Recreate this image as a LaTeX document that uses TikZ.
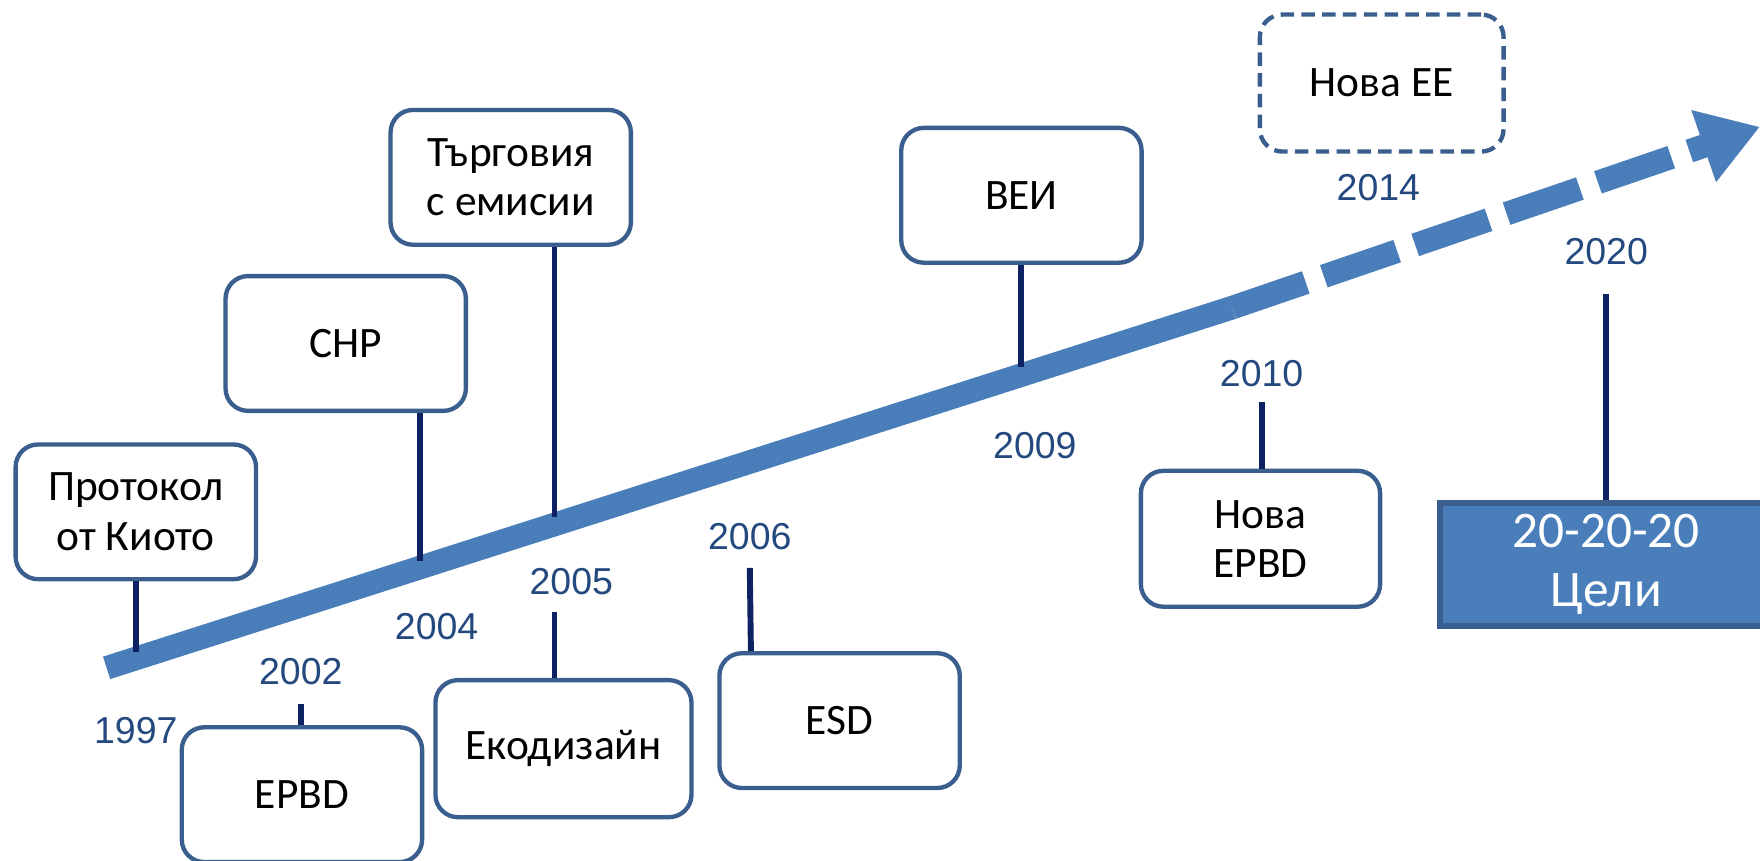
\documentclass[tikz,border=0pt]{standalone}
\usepackage{fontspec}
\setmainfont{Carlito}
\newfontfamily\yearfont{Liberation Sans}
\usetikzlibrary{arrows.meta}
\definecolor{barblue}{HTML}{4A7EBB}
\definecolor{boxline}{HTML}{3A5F8E}
\definecolor{tickblue}{HTML}{0E2262}
\definecolor{yearblue}{HTML}{24497F}

\begin{document}
\begin{tikzpicture}[x=0.01cm, y=-0.01cm,
    event/.style={draw=boxline, line width=1.1pt, rounded corners=0.2cm,
      minimum width=2.14cm, minimum height=1.2cm, inner sep=0pt,
      align=center, font=\fontsize{11}{12.5}\selectfont},
    year/.style={text=yearblue, font=\yearfont\fontsize{9.5}{11}\selectfont},
    tick/.style={tickblue, line width=1.5pt}]
  \useasboundingbox (0,0) rectangle (1568,767);

  % time line
  \coordinate (start) at (95,595);
  \coordinate (mid) at (1098,274);
  \coordinate (tip) at (1568,113);
  \draw[barblue, line width=0.21cm] (start) -- (mid);
  \draw[barblue, line width=0.21cm, dash pattern=on 0.69cm off 0.17cm,
    -{Triangle[length=0.53cm, width=0.64cm]}] (mid) -- (tip);

  % events above the line
  \node[event] (kioto) at (121,456) {Протокол\\от Киото};
  \node[event] (chp) at (308,306) {CHP};
  \node[event] (trade) at (455,158) {Търговия\\с емисии};
  \node[event] (vei) at (910,174) {ВЕИ};
  \node[event, dash pattern=on 0.12cm off 0.065cm, minimum width=2.17cm, minimum height=1.22cm] (newee) at (1231,74) {Нова ЕЕ};

  % events below the line
  \node[event] (epbd) at (269,708) {EPBD};
  \node[event, minimum width=2.28cm, minimum height=1.22cm] (eco) at (502,667) {Екодизайн};
  \node[event] (esd) at (748,642) {ESD};
  \node[event, minimum width=2.13cm, minimum height=1.21cm] (newepbd) at (1123,480) {Нова\\EPBD};
  \node[draw=boxline, fill=barblue, line width=1.5pt, minimum width=2.96cm, minimum height=1.09cm,
    inner sep=0pt, align=center, text=white, font=\fontsize{13}{15}\selectfont] (goals) at (1431,503) {20-20-20\\Цели};

  % years
  \node[year] (y1997) at (121,651) {1997};
  \node[year] (y2002) at (268,598) {2002};
  \node[year] (y2004) at (389,558) {2004};
  \node[year] (y2005) at (509,518) {2005};
  \node[year] (y2006) at (668,478) {2006};
  \node[year] (y2009) at (922,397) {2009};
  \node[year] (y2010) at (1124,333) {2010};
  \node[year] (y2014) at (1228,167) {2014};
  \node[year] (y2020) at (1431,224) {2020};

  % ticks
  \coordinate (t1997) at (121,581);
  \coordinate (t2002) at (268,627);
  \coordinate (t2004) at (374,500);
  \coordinate (t2005a) at (494,461);
  \coordinate (t2005b) at (494,545);
  \coordinate (t2006) at (668,506);
  \coordinate (t2009) at (910,327);
  \coordinate (t2010) at (1124,358);
  \coordinate (t2020) at (1431,262);
  \draw[tick] (kioto.south) -- (t1997);
  \draw[tick] (t2002) -- (epbd.north -| t2002);
  \draw[tick] (chp.south -| t2004) -- (t2004);
  \draw[tick] (trade.south -| t2005a) -- (t2005a);
  \draw[tick] (t2005b) -- (eco.north -| t2005b);
  \draw[tick] (t2006) -- ([xshift=0.01cm]esd.north -| t2006);
  \draw[tick] (vei.south) -- (t2009);
  \draw[tick] (t2010) -- (newepbd.north -| t2010);
  \draw[tick] (t2020) -- (goals.north);
\end{tikzpicture}
\end{document}
